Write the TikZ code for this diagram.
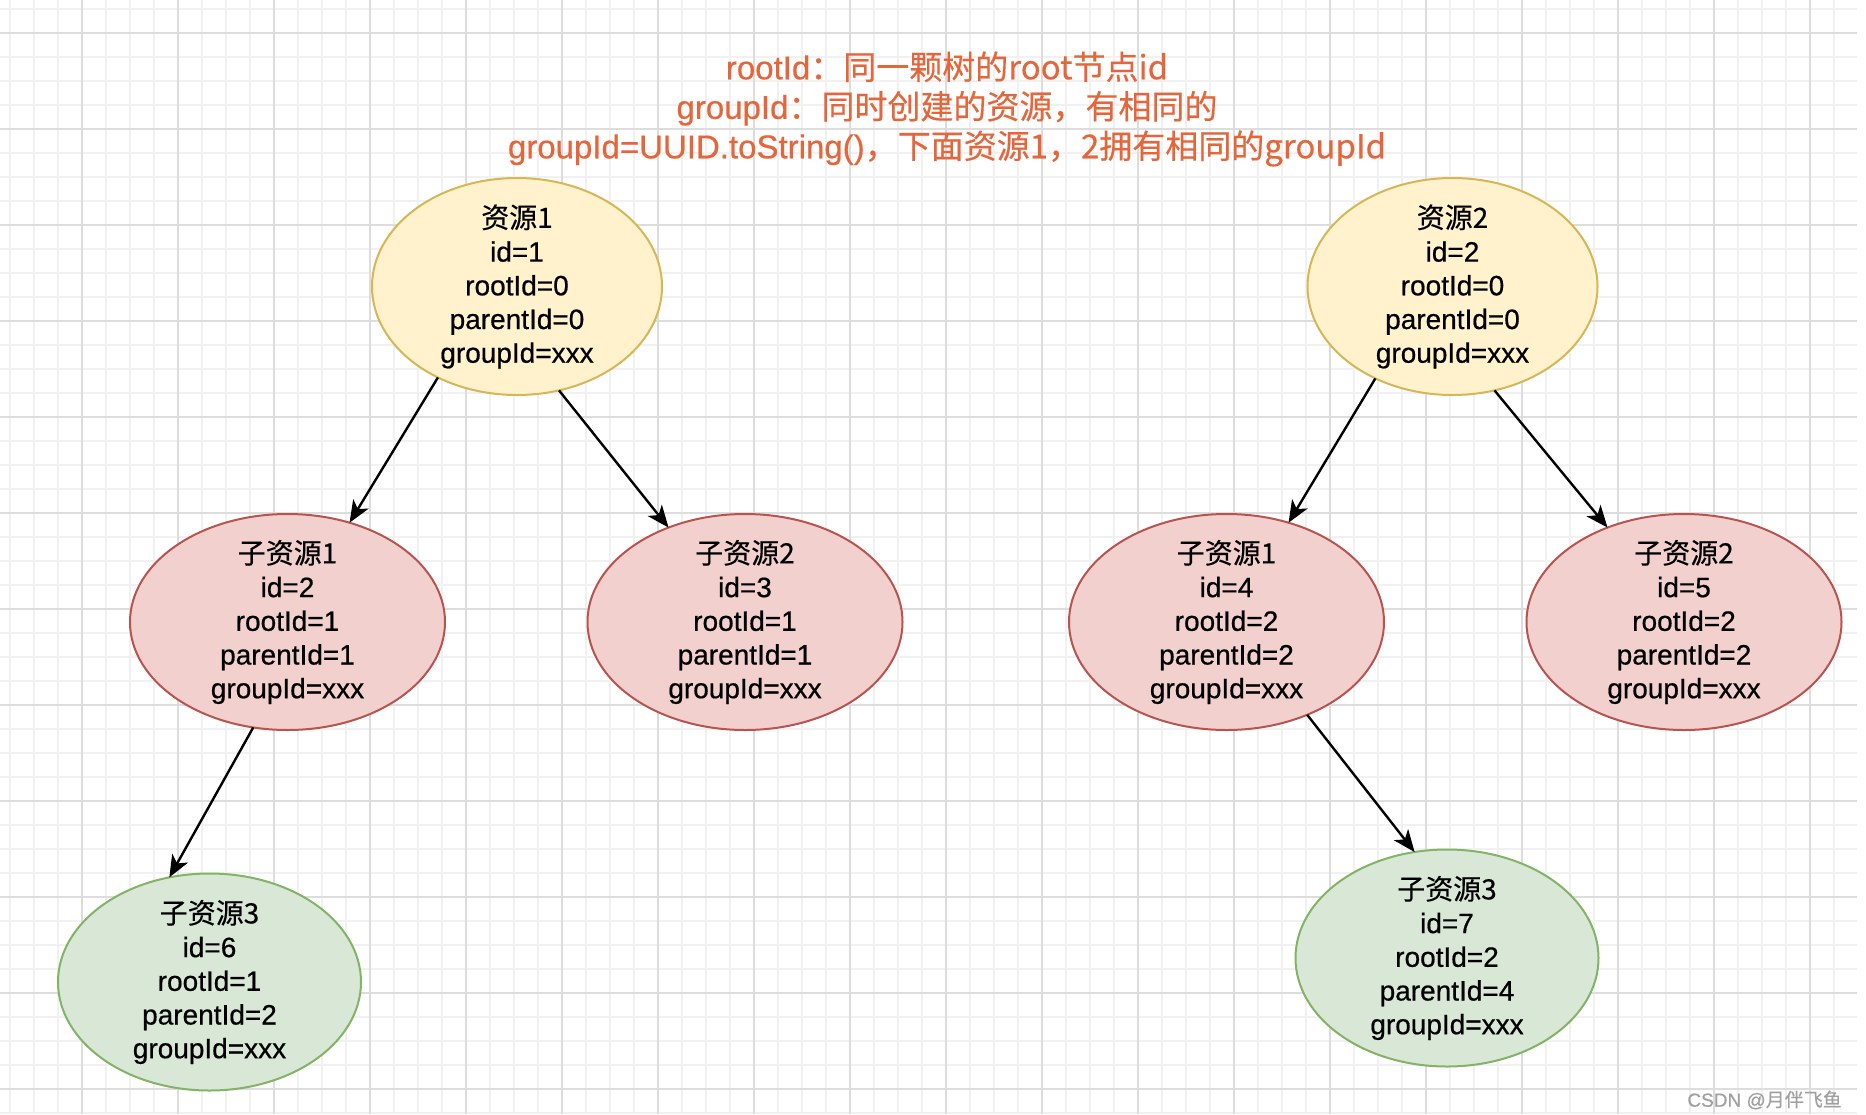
\documentclass[tikz,border=0pt]{standalone}
\usepackage{fontspec}
\setmainfont{Liberation Sans}[FakeBold=0.6]
\newfontfamily\cjk{Noto Sans CJK SC}[FakeBold=0.4]
\usetikzlibrary{shapes.geometric,arrows.meta}
\definecolor{gridminor}{HTML}{F1F1F1}
\definecolor{gridmajor}{HTML}{DDDDDD}
\definecolor{yfill}{HTML}{FFF2CC}
\definecolor{ydraw}{HTML}{D6B656}
\definecolor{rfill}{HTML}{F2D0CE}
\definecolor{rdraw}{HTML}{B85450}
\definecolor{gfill}{HTML}{D9E8D6}
\definecolor{gdraw}{HTML}{82B366}
\definecolor{titlec}{HTML}{E6663C}
\definecolor{wmark}{HTML}{A0A0A0}
\tikzset{
  minorline/.style={draw=gridminor, line width=1.5pt},
  majorline/.style={draw=gridmajor, line width=1.5pt},
  rootnode/.style={ellipse, draw=ydraw, fill=yfill, line width=2pt, inner sep=0pt, outer sep=0pt, minimum width=290pt, minimum height=217pt},
  childnode/.style={ellipse, draw=rdraw, fill=rfill, line width=2pt, inner sep=0pt, outer sep=0pt, minimum width=315pt, minimum height=216pt},
  leafnode/.style={ellipse, draw=gdraw, fill=gfill, line width=2pt, inner sep=0pt, outer sep=0pt, minimum width=303pt, minimum height=217pt},
  txt/.style={align=center, inner sep=0pt, font=\fontsize{28}{33.7}\selectfont},
  link/.style={line width=2.4pt, -{Stealth[length=22pt,width=18pt,inset=6pt]}}
}
\begin{document}
\begin{tikzpicture}[x=1pt,y=-1pt]
\useasboundingbox (0,0) rectangle (1866,1114);
\fill[white] (0,0) rectangle (1866,1114);
% grid
\foreach \gx in {10,34,...,1834} \draw[minorline] (\gx,0) -- (\gx,1114);
\foreach \gy in {9,33,...,1113} \draw[minorline] (0,\gy) -- (1857,\gy);
\foreach \gx in {82,178,...,1810} \draw[majorline] (\gx,0) -- (\gx,1114);
\foreach \gy in {33,129,...,1089} \draw[majorline] (0,\gy) -- (1857,\gy);

% title
\node[align=center, inner sep=0pt, text=titlec, font=\fontsize{33}{39.5}\selectfont] (title) at (947,109)
  {rootId\cjk{：同一颗树的}root\cjk{节点}id\\
   groupId\cjk{：同时创建的资源，有相同的}\\
   groupId=UUID.toString()\cjk{，下面资源}1\cjk{，}2\cjk{拥有相同的}groupId};

% ellipses
\node[rootnode] (e1) at (517,286.5) {};
\node[rootnode] (e2) at (1452.5,286.5) {};
\node[childnode] (c1) at (287.5,622) {};
\node[childnode] (c2) at (745,622) {};
\node[childnode] (c4) at (1226.5,622) {};
\node[childnode] (c5) at (1684,622) {};
\node[leafnode] (g1) at (209.5,982) {};
\node[leafnode] (g2) at (1447,958) {};

% texts
\node[txt] (t1) at (e1) {\cjk{资源}1\\id=1\\rootId=0\\parentId=0\\groupId=xxx};
\node[txt] (t2) at (e2) {\cjk{资源}2\\id=2\\rootId=0\\parentId=0\\groupId=xxx};
\node[txt] (t3) at (c1) {\cjk{子资源}1\\id=2\\rootId=1\\parentId=1\\groupId=xxx};
\node[txt] (t4) at (c2) {\cjk{子资源}2\\id=3\\rootId=1\\parentId=1\\groupId=xxx};
\node[txt] (t5) at (c4) {\cjk{子资源}1\\id=4\\rootId=2\\parentId=2\\groupId=xxx};
\node[txt] (t6) at (c5) {\cjk{子资源}2\\id=5\\rootId=2\\parentId=2\\groupId=xxx};
\node[txt] (t7) at (g1) {\cjk{子资源}3\\id=6\\rootId=1\\parentId=2\\groupId=xxx};
\node[txt] (t8) at (g2) {\cjk{子资源}3\\id=7\\rootId=2\\parentId=4\\groupId=xxx};

% connectors
\draw[link] (e1.229) -- (c1.58);
\draw[link] (e1.292) -- (c2.129);
\draw[link] (e2.230) -- (c4.58.5);
\draw[link] (e2.292) -- (c5.129);
\draw[link] (c1.252) -- (g1.111);
\draw[link] (c4.311) -- (g2.107);

% watermark
\node[anchor=east, inner sep=0pt, text=wmark, font=\fontsize{19}{22}\selectfont] (wm) at (1842,1100) {CSDN @\cjk{月伴飞鱼}};
\end{tikzpicture}
\end{document}
